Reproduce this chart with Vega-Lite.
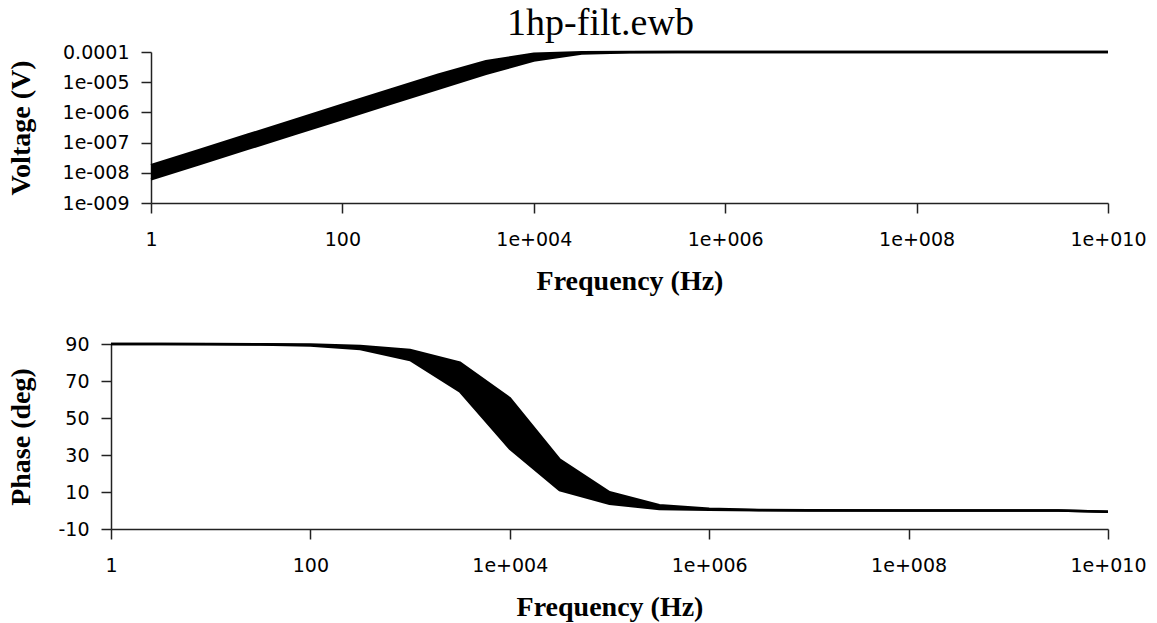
{
  "$schema": "https://vega.github.io/schema/vega-lite/v6.json",
  "padding": {"left": 7, "top": 5, "right": 5, "bottom": 2},
  "title": {"text": "1hp-filt.ewb", "font": "Liberation Serif", "fontSize": 38, "fontWeight": "normal", "color": "#000", "anchor": "middle", "dx": 24, "offset": 0},
  "datasets": {
    "volt": [
      {"f": 1, "lo": 6.06e-9, "hi": 1.786e-8},
      {"f": 3.162, "lo": 1.92e-8, "hi": 5.65e-8},
      {"f": 10, "lo": 6.06e-8, "hi": 1.786e-7},
      {"f": 31.62, "lo": 1.92e-7, "hi": 5.65e-7},
      {"f": 100, "lo": 6.06e-7, "hi": 1.786e-6},
      {"f": 316.2, "lo": 1.92e-6, "hi": 5.65e-6},
      {"f": 1000, "lo": 6.05e-6, "hi": 1.758e-5},
      {"f": 3162, "lo": 1.883e-5, "hi": 4.92e-5},
      {"f": 10000, "lo": 5.18e-5, "hi": 8.72e-5},
      {"f": 31620, "lo": 8.87e-5, "hi": 9.85e-5},
      {"f": 100000, "lo": 9.87e-5, "hi": 9.98e-5},
      {"f": 316200, "lo": 9.99e-5, "hi": 1e-4},
      {"f": 1000000, "lo": 1e-4, "hi": 1e-4},
      {"f": 10000000, "lo": 1e-4, "hi": 1e-4},
      {"f": 100000000, "lo": 1e-4, "hi": 1e-4},
      {"f": 1000000000, "lo": 1e-4, "hi": 1e-4},
      {"f": 10000000000, "lo": 1e-4, "hi": 1e-4}
    ],
    "phase": [
      {"f": 1, "lo": 89.99, "hi": 90},
      {"f": 3.162, "lo": 89.97, "hi": 89.99},
      {"f": 10, "lo": 89.91, "hi": 89.97},
      {"f": 31.62, "lo": 89.73, "hi": 89.9},
      {"f": 100, "lo": 89.13, "hi": 89.68},
      {"f": 316.2, "lo": 87.26, "hi": 88.98},
      {"f": 1000, "lo": 81.38, "hi": 86.78},
      {"f": 3162, "lo": 64.4, "hi": 79.92},
      {"f": 10000, "lo": 33.43, "hi": 60.67},
      {"f": 31620, "lo": 11.0, "hi": 27.5},
      {"f": 100000, "lo": 3.7, "hi": 9.9},
      {"f": 316200, "lo": 0.8, "hi": 2.9},
      {"f": 1000000, "lo": 0.38, "hi": 1.0},
      {"f": 3162000, "lo": 0.12, "hi": 0.32},
      {"f": 10000000, "lo": 0.04, "hi": 0.1},
      {"f": 100000000, "lo": 0.0, "hi": 0.01},
      {"f": 1000000000, "lo": 0.0, "hi": 0.0},
      {"f": 3162000000, "lo": 0.0, "hi": 0.0},
      {"f": 10000000000, "lo": -0.7, "hi": -0.7}
    ]
  },
  "vconcat": [
    {
      "width": 997,
      "height": 151,
      "data": {"name": "volt"},
      "encoding": {
        "x": {"field": "f", "type": "quantitative",
          "scale": {"type": "log", "domain": [1, 10000000000], "nice": false, "range": [40, 997]},
          "axis": {"title": "Frequency (Hz)", "values": [1, 100, 10000, 1000000, 100000000, 10000000000], "tickCount": 20,
            "labelExpr": "datum.value < 1000 ? format(datum.value, 'd') : '1e+' + (round(log(datum.value)/LN10) < 10 ? '00' : '0') + round(log(datum.value)/LN10)",
            "labelPadding": 17, "titlePadding": 18}}
      },
      "layer": [
        {"mark": {"type": "area", "color": "#000", "opacity": 1},
         "encoding": {
           "y": {"field": "hi", "type": "quantitative",
             "scale": {"type": "log", "domain": [1e-9, 1e-4], "nice": false},
             "axis": {"title": "Voltage (V)", "values": [1e-9, 1e-8, 1e-7, 1e-6, 1e-5, 1e-4], "tickCount": 20,
               "labelExpr": "datum.value > 5e-5 ? '0.0001' : '1e-00' + format(-round(log(datum.value)/LN10), 'd')",
               "minExtent": 88, "maxExtent": 88, "titlePadding": 28, "offset": -40}},
           "y2": {"field": "lo"}
         }},
        {"mark": {"type": "line", "color": "#000", "strokeWidth": 2.5},
         "encoding": {"y": {"field": "hi", "type": "quantitative"}}},
        {"mark": {"type": "line", "color": "#000", "strokeWidth": 2.5},
         "encoding": {"y": {"field": "lo", "type": "quantitative"}}}
      ]
    },
    {
      "width": 997,
      "height": 185,
      "data": {"name": "phase"},
      "encoding": {
        "x": {"field": "f", "type": "quantitative",
          "scale": {"type": "log", "domain": [1, 10000000000], "nice": false},
          "axis": {"title": "Frequency (Hz)", "values": [1, 100, 10000, 1000000, 100000000, 10000000000], "tickCount": 20,
            "labelExpr": "datum.value < 1000 ? format(datum.value, 'd') : '1e+' + (round(log(datum.value)/LN10) < 10 ? '00' : '0') + round(log(datum.value)/LN10)",
            "labelPadding": 17, "titlePadding": 18}}
      },
      "layer": [
        {"mark": {"type": "area", "color": "#000", "opacity": 1},
         "encoding": {
           "y": {"field": "hi", "type": "quantitative",
             "scale": {"domain": [-10, 90], "nice": false, "zero": false},
             "axis": {"title": "Phase (deg)", "values": [-10, 10, 30, 50, 70, 90], "tickCount": 20,
               "labelExpr": "datum.value < 0 ? '-' + abs(datum.value) : '' + datum.value",
               "minExtent": 53, "maxExtent": 53, "titlePadding": 23}},
           "y2": {"field": "lo"}
         }},
        {"mark": {"type": "line", "color": "#000", "strokeWidth": 2.5},
         "encoding": {"y": {"field": "hi", "type": "quantitative"}}},
        {"mark": {"type": "line", "color": "#000", "strokeWidth": 2.5},
         "encoding": {"y": {"field": "lo", "type": "quantitative"}}}
      ]
    }
  ],
  "align": "none",
  "bounds": "full",
  "spacing": 40,
  "config": {
    "view": {"stroke": null},
    "axis": {
      "grid": false,
      "domainColor": "#222", "domainWidth": 1.5,
      "tickColor": "#222", "tickWidth": 1.5, "tickSize": 10,
      "labelFont": "DejaVu Sans", "labelFontSize": 19, "labelColor": "#000",
      "labelOverlap": false, "labelFlush": false,
      "titleFont": "Liberation Serif", "titleFontSize": 28, "titleFontWeight": "bold", "titleColor": "#000"
    },
    "axisY": {"labelPadding": 12, "titleFontSize": 28}
  }
}
